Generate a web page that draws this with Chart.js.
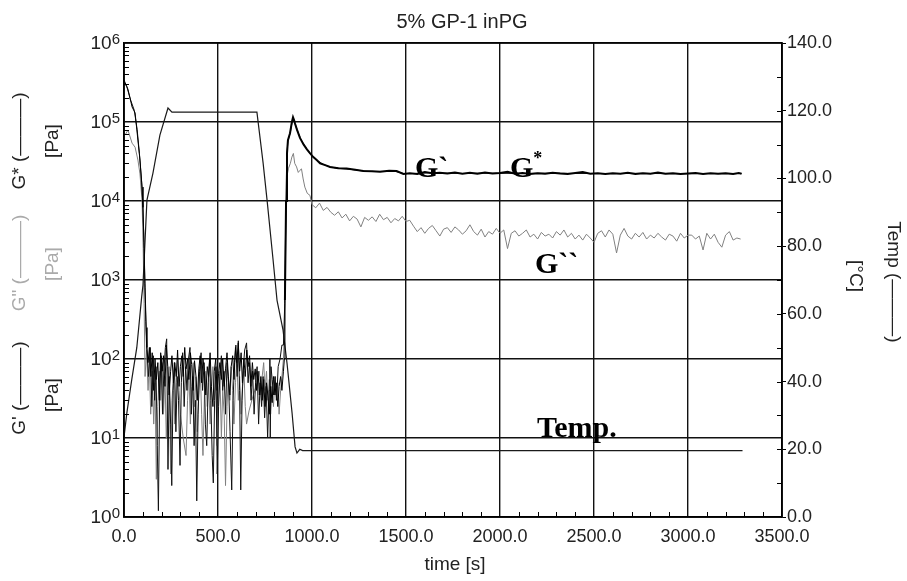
<!DOCTYPE html>
<html>
<head>
<meta charset="utf-8">
<title>5% GP-1 inPG</title>
<script src="https://cdn.jsdelivr.net/npm/chart.js@4.4.1/dist/chart.umd.min.js"></script>
<style>
  html, body { margin: 0; padding: 0; background: #fff; }
  #wrap { width: 907px; height: 581px; position: relative; }
</style>
</head>
<body>
<div id="wrap"><canvas id="rheoChart"></canvas></div>
<script>
// axis ticks
const timeTicks = [0, 500, 1000, 1500, 2000, 2500, 3000, 3500];
const modulusTicks = [1, 10, 100, 1000, 10000, 100000, 1000000];
const tempTicks = [0, 20, 40, 60, 80, 100, 120, 140];

// temperature [°C]
const tempTime = [0, 15, 41, 68, 94, 101, 122, 154, 191, 234, 255, 707, 740, 761, 793, 814, 846, 867, 894, 910, 920, 935, 950, 3290];
const tempC = [23.6, 30.7, 40.5, 50, 65, 68.5, 93.6, 101.6, 112.8, 120.8, 119.6, 119.6, 104.5, 93.6, 75.9, 64, 55.2, 45.5, 30.7, 20.7, 18.9, 20.0, 19.6, 19.6];

// G* [Pa]
const gStarTime = [
  0, 21, 43, 59, 74, 85, 96, 101, 107, 112,
  118, 122, 128, 135, 143, 150, 158, 165, 172, 180,
  188, 195, 203, 210, 218, 225, 233, 240, 248, 255,
  263, 270, 278, 285, 293, 300, 308, 315, 323, 330,
  338, 345, 353, 360, 368, 375, 383, 390, 398, 405,
  413, 420, 428, 435, 443, 450, 458, 465, 473, 480,
  488, 495, 503, 510, 518, 525, 533, 540, 548, 555,
  563, 570, 578, 585, 593, 600, 608, 615, 623, 630,
  638, 645, 653, 660, 668, 675, 683, 690, 698, 705,
  713, 720, 728, 735, 743, 750, 758, 765, 773, 780,
  788, 795, 803, 810, 818, 825, 833, 840, 848, 853,
  856, 862, 867, 872, 883, 893, 899, 905, 910, 920,
  936, 955, 973, 990, 1007, 1025, 1043, 1070, 1096, 1140,
  1184, 1230, 1273, 1320, 1362, 1410, 1450, 1486, 1520, 1560,
  1600, 1640, 1680, 1720, 1760, 1800, 1840, 1880, 1920, 1960,
  2000, 2040, 2080, 2120, 2160, 2200, 2240, 2280, 2320, 2360,
  2400, 2440, 2480, 2520, 2560, 2600, 2640, 2680, 2720, 2760,
  2800, 2840, 2880, 2920, 2960, 3000, 3040, 3080, 3120, 3160,
  3200, 3240, 3270, 3285
];
const gStarPa = [
  340000, 260000, 155000, 130000, 59000, 33000, 15000, 8300, 2500, 800,
  250, 140, 90, 140, 60, 120, 40, 100, 55, 90,
  30, 120, 70, 110, 45, 150, 80, 35, 70, 110,
  50, 90, 60, 130, 45, 80, 110, 60, 140, 75,
  100, 55, 120, 85, 40, 95, 60, 30, 75, 110,
  50, 100, 70, 35, 80, 60, 120, 45, 25, 70,
  100, 40, 65, 90, 55, 100, 45, 75, 120, 60,
  35, 80, 110, 55, 140, 90, 160, 70, 120, 50,
  100, 60, 130, 80, 110, 45, 90, 55, 75, 40,
  70, 35, 60, 30, 55, 25, 50, 35, 20, 45,
  28, 60, 35, 50, 25, 45, 60, 40, 70, 100,
  560, 10000, 40000, 59000, 72000, 100000, 115000, 105000, 95000, 80000,
  63000, 52000, 45000, 40000, 36000, 33000, 30000, 28500, 27000, 26000,
  25700, 24800, 24000, 23800, 23500, 24200, 24000, 22000, 22500, 22000,
  23200, 22400, 22800, 22300, 23000, 22200, 22700, 22100, 22900, 22300,
  22600, 23400, 22200, 22600, 22000, 22500, 22100, 22800, 22300, 22000,
  22600, 23300, 22200, 22500, 21900, 22400, 22100, 22700, 22000, 22500,
  22200, 22900, 22100, 22400, 21900, 22300, 22600, 22000, 22400, 22100,
  22500, 22000, 22600, 22100
];

// G' [Pa]
const gPrimeTime = [
  0, 15, 35, 55, 70, 82, 94, 100, 106, 111,
  116, 120, 130, 140, 148, 156, 163, 170, 177, 183,
  190, 198, 205, 212, 220, 227, 234, 241, 248, 254,
  261, 268, 276, 283, 290, 298, 305, 312, 320, 328,
  335, 343, 351, 358, 366, 373, 380, 387, 394, 402,
  410, 418, 426, 433, 440, 448, 455, 462, 469, 475,
  482, 489, 496, 503, 510, 518, 525, 532, 540, 548,
  556, 564, 573, 580, 588, 595, 602, 608, 615, 621,
  628, 635, 642, 652, 660, 668, 676, 684, 692, 700,
  708, 716, 724, 732, 740, 748, 756, 764, 772, 776,
  778, 782, 788, 796, 804, 812, 820, 830, 840, 848,
  855, 861, 866, 872, 885, 898, 905, 912, 922, 940,
  960, 980, 1000, 1030, 1060, 1100, 1150, 1200, 1260, 1320,
  1380, 1440, 1490, 1550, 1620, 1700, 1800, 1900, 2000, 2100,
  2200, 2300, 2400, 2500, 2600, 2700, 2800, 2900, 3000, 3100,
  3200, 3285
];
const gPrimePa = [
  320000, 280000, 190000, 140000, 80000, 40000, 17000, 9000, 3000, 900,
  300, 150, 60, 140, 25, 110, 30, 80, 8, 1.2,
  40, 110, 20, 70, 140, 180, 4, 60, 15, 2.5,
  40, 90, 12, 60, 30, 4.5, 50, 120, 25, 80,
  40, 100, 140, 20, 60, 8, 30, 1.6, 20, 70,
  120, 40, 90, 15, 8, 50, 100, 30, 6, 2.7,
  30, 80, 3.5, 25, 60, 110, 40, 70, 20, 90,
  50, 12, 2.2, 30, 90, 150, 60, 170, 40, 2.2,
  30, 80, 130, 160, 50, 90, 30, 70, 20, 50,
  80, 15, 50, 25, 60, 18, 45, 10, 40, 100,
  10, 80, 55, 35, 60, 30, 80, 100, 150, 150,
  500, 9000, 38000, 57000, 75000, 112000, 102000, 92000, 78000, 61000,
  50000, 43000, 37000, 32000, 29000, 26800, 25800, 25200, 24200, 23600,
  23700, 23800, 22200, 22300, 22700, 22500, 22300, 22500, 22400, 22300,
  22400, 22500, 22300, 22300, 22200, 22400, 22300, 22200, 22200, 22300,
  22200, 22300
];

// G'' [Pa]
const gDoubleTime = [
  8, 21, 43, 59, 74, 85, 96, 102, 107, 112,
  120, 128, 135, 142, 150, 158, 165, 172, 180, 188,
  195, 203, 210, 218, 225, 233, 240, 248, 255, 263,
  270, 278, 285, 293, 300, 315, 330, 338, 345, 353,
  360, 368, 375, 383, 390, 398, 405, 413, 420, 428,
  435, 443, 450, 458, 465, 473, 480, 488, 495, 503,
  510, 518, 525, 533, 540, 548, 555, 563, 570, 578,
  585, 593, 600, 608, 615, 623, 630, 638, 645, 652,
  665, 680, 695, 710, 720, 728, 735, 743, 750, 758,
  765, 773, 780, 788, 795, 803, 810, 818, 825, 833,
  840, 848, 855, 860, 866, 875, 885, 893, 901, 908,
  918, 927, 936, 944, 953, 962, 975, 989,
  1000, 1020, 1040, 1060, 1080, 1100, 1120, 1140, 1160, 1180,
  1200, 1220, 1240, 1260, 1280, 1300, 1320, 1340, 1360, 1380,
  1400, 1420, 1440, 1460, 1480, 1500, 1520, 1540, 1560, 1580,
  1600, 1620, 1640, 1660, 1680, 1700, 1720, 1740, 1760, 1780,
  1800, 1820, 1840, 1860, 1880, 1900, 1920, 1940, 1960, 1980,
  2000, 2020, 2040, 2060, 2080, 2100, 2120, 2140, 2160, 2180,
  2200, 2220, 2240, 2260, 2280, 2300, 2320, 2340, 2360, 2380,
  2400, 2420, 2440, 2460, 2480, 2500, 2520, 2540, 2560, 2580,
  2600, 2620, 2640, 2660, 2680, 2700, 2720, 2740, 2760, 2780,
  2800, 2820, 2840, 2860, 2880, 2900, 2920, 2940, 2960, 2980,
  3000, 3020, 3040, 3060, 3080, 3100, 3120, 3140, 3160, 3180,
  3200, 3220, 3240, 3260, 3280
];
const gDoublePa = [
  70000, 79000, 54000, 48000, 33000, 22000, 10000, 2500, 500, 60,
  130, 40, 90, 20, 70, 15, 50, 3, 25, 70,
  30, 90, 20, 60, 10, 40, 80, 3.5, 30, 60,
  15, 50, 100, 40, 20, 10, 6, 30, 70, 15,
  45, 90, 25, 60, 12, 40, 80, 20, 6, 35,
  70, 25, 55, 15, 40, 80, 30, 60, 8, 35,
  70, 10, 40, 20, 2.5, 25, 60, 30, 80, 40,
  15, 50, 100, 30, 60, 20, 45, 70, 25, 15,
  22, 30, 40, 50, 70, 35, 60, 90, 40, 70,
  30, 55, 20, 45, 25, 60, 30, 50, 20, 40,
  60, 100, 300, 3000, 20000, 26000, 30000, 36000, 40000, 30000,
  27000, 23000, 24500, 25500, 19000, 15000, 12500, 11800,
  9000, 8200, 9400, 7600, 8300, 7200, 6600, 7300, 6100, 6800,
  5600, 6400, 5900, 4700, 6200, 5700, 6300, 5500, 6800, 5800,
  6200, 5300, 6000, 5600, 6400, 5500, 5700, 4800, 4100, 4600,
  3900, 4500, 4900, 4200, 3600, 4400, 4600, 4000, 4700, 4300,
  3800, 4200, 5000, 4100, 3700, 4400, 3500, 4100, 3800, 4500,
  3900, 4300, 2500, 3900, 4200, 3600, 3900, 4300, 3500, 3800,
  3300, 4000, 3600, 3800, 3400, 4100, 3700, 4300, 3500, 3900,
  3300, 3700, 3200, 3800, 3400, 3000, 3900, 4200, 3500, 4300,
  3800, 2200, 3700, 4500, 3600, 3300, 3900, 3500, 4000, 3300,
  3700, 3400, 3900, 3500, 3200, 3800, 3600, 3100, 3900, 3400,
  3700, 3700, 3300, 3600, 2400, 3900, 3300, 3800, 3000, 2600,
  3700, 4100, 3200, 3400, 3300
];

const SANS = '"Liberation Sans", Arial, Helvetica, sans-serif';
const SERIF = '"Liberation Serif", "Times New Roman", serif';
Chart.defaults.font.family = SANS;
Chart.defaults.color = '#222';

const pts = (ts, vs) => ts.map((t, i) => ({ x: t, y: vs[i] }));

// minor ticks, frame, axis titles, decade labels and curve labels
const overlay = {
  id: 'overlay',
  afterDatasetsDraw(chart) {
    const { ctx, chartArea: a } = chart;
    const sx = chart.scales.x, sy = chart.scales.y, st = chart.scales.yTemp;
    ctx.save();

    ctx.strokeStyle = '#000';
    ctx.lineWidth = 1;
    ctx.beginPath();
    for (let v = 100; v < 3500; v += 100) {
      if (v % 500 === 0) continue;
      const px = Math.round(sx.getPixelForValue(v)) + 0.5;
      ctx.moveTo(px, a.bottom);
      ctx.lineTo(px, a.bottom - 5);
    }
    for (let p = 0; p < 6; p++) {
      for (let m = 2; m <= 9; m++) {
        const py = Math.round(sy.getPixelForValue(m * Math.pow(10, p))) + 0.5;
        ctx.moveTo(a.left, py);
        ctx.lineTo(a.left + 5, py);
      }
    }
    for (let v = 10; v < 140; v += 10) {
      const py = Math.round(st.getPixelForValue(v)) + 0.5;
      ctx.moveTo(a.right, py);
      ctx.lineTo(a.right - 5, py);
    }
    ctx.stroke();

    ctx.lineWidth = 1.5;
    ctx.strokeRect(a.left, a.top, a.right - a.left, a.bottom - a.top);

    // decade labels 10^n
    ctx.fillStyle = '#222';
    modulusTicks.forEach((v) => {
      const py = sy.getPixelForValue(v);
      const exp = String(Math.round(Math.log10(v)));
      ctx.font = '15px ' + SANS;
      const ew = ctx.measureText(exp).width;
      const xr = a.left - 4;
      ctx.textAlign = 'left';
      ctx.textBaseline = 'alphabetic';
      ctx.fillText(exp, xr - ew, py + 1);
      ctx.font = '19px ' + SANS;
      ctx.textAlign = 'right';
      ctx.textBaseline = 'middle';
      ctx.fillText('10', xr - ew, py + 1);
    });

    // curve labels
    ctx.fillStyle = '#000';
    ctx.textAlign = 'left';
    ctx.textBaseline = 'alphabetic';
    ctx.font = 'bold 30px ' + SERIF;
    ctx.fillText('G`', sx.getPixelForValue(1548), sy.getPixelForValue(20000));
    const gx = sx.getPixelForValue(2053);
    const gy = sy.getPixelForValue(20000);
    ctx.fillText('G', gx, gy);
    const gw = ctx.measureText('G').width;
    ctx.font = 'bold 18px ' + SERIF;
    ctx.fillText('*', gx + gw, gy - 13);
    ctx.font = 'bold 30px ' + SERIF;
    ctx.fillText('G``', sx.getPixelForValue(2186), sy.getPixelForValue(1230));
    ctx.fillText('Temp.', sx.getPixelForValue(2197), st.getPixelForValue(23.6));

    // titles
    ctx.fillStyle = '#222';
    ctx.textAlign = 'center';
    ctx.textBaseline = 'middle';
    ctx.font = '20px ' + SANS;
    ctx.fillText('5% GP-1 inPG', 462, 22);
    ctx.font = '19px ' + SANS;
    ctx.fillText('time [s]', 455, 565);

    const vText = (text, x, y, rot, color) => {
      ctx.save();
      ctx.translate(x, y);
      ctx.rotate(rot);
      ctx.fillStyle = color;
      ctx.fillText(text, 0, 0);
      ctx.restore();
    };
    const up = -Math.PI / 2;
    vText('G* (\u2014\u2014\u2014)', 20, 141, up, '#222');
    vText('[Pa]', 53, 141, up, '#222');
    vText('G" (\u2014\u2014\u2014)', 20, 263, up, '#aaa');
    vText('[Pa]', 53, 264, up, '#aaa');
    vText('G\' (\u2014\u2014\u2014)', 20, 388, up, '#222');
    vText('[Pa]', 53, 395, up, '#222');
    vText('Temp (\u2014\u2014\u2014)', 893, 282, Math.PI / 2, '#222');
    vText('[\u00b0C]', 855, 276, Math.PI / 2, '#222');

    ctx.restore();
  }
};

new Chart(document.getElementById('rheoChart'), {
  type: 'line',
  data: {
    datasets: [
      {
        label: 'G*',
        data: pts(gStarTime, gStarPa),
        borderColor: '#000',
        borderWidth: 1,
        // thicker once the gel has re-formed
        segment: { borderWidth: (c) => (c.p0.parsed.x >= 856 ? 2 : 1) },
        yAxisID: 'y'
      },
      { label: "G'", data: pts(gPrimeTime, gPrimePa), borderColor: '#111', borderWidth: 1, yAxisID: 'y' },
      { label: 'Temp', data: pts(tempTime, tempC), borderColor: '#1a1a1a', borderWidth: 1.2, yAxisID: 'yTemp' },
      { label: 'G"', data: pts(gDoubleTime, gDoublePa), borderColor: '#808080', borderWidth: 1, yAxisID: 'y' }
    ]
  },
  options: {
    responsive: true,
    maintainAspectRatio: false,
    animation: false,
    events: [],
    layout: { padding: { top: 43, left: 0, right: 0, bottom: 0 } },
    elements: {
      point: { radius: 0 },
      line: { tension: 0, fill: false }
    },
    plugins: {
      legend: { display: false },
      tooltip: { enabled: false },
      title: { display: false }
    },
    scales: {
      x: {
        type: 'linear',
        min: 0,
        max: 3500,
        afterBuildTicks: (s) => { s.ticks = timeTicks.map((v) => ({ value: v })); },
        afterFit: (s) => { s.height = 64; },
        ticks: {
          font: { size: 18 },
          color: '#222',
          padding: 9,
          maxRotation: 0,
          callback: (v) => Number(v).toFixed(1)
        },
        grid: { color: '#111', lineWidth: 1.4, drawTicks: false },
        border: { display: true, color: '#000', width: 1.5 }
      },
      y: {
        type: 'logarithmic',
        position: 'left',
        min: 1,
        max: 1000000,
        afterBuildTicks: (s) => { s.ticks = modulusTicks.map((v) => ({ value: v })); },
        afterFit: (s) => { s.width = 124; },
        ticks: { display: false },
        grid: { color: '#111', lineWidth: 1.4, drawTicks: false },
        border: { display: true, color: '#000', width: 1.5 }
      },
      yTemp: {
        type: 'linear',
        position: 'right',
        min: 0,
        max: 140,
        afterBuildTicks: (s) => { s.ticks = tempTicks.map((v) => ({ value: v })); },
        afterFit: (s) => { s.width = 125; },
        ticks: {
          font: { size: 18 },
          color: '#222',
          padding: 1,
          callback: (v) => Number(v).toFixed(1)
        },
        grid: { drawOnChartArea: false, drawTicks: true, tickLength: 4, color: '#000', lineWidth: 1 },
        border: { display: true, color: '#000', width: 1.5 }
      }
    }
  },
  plugins: [overlay]
});
</script>
</body>
</html>
